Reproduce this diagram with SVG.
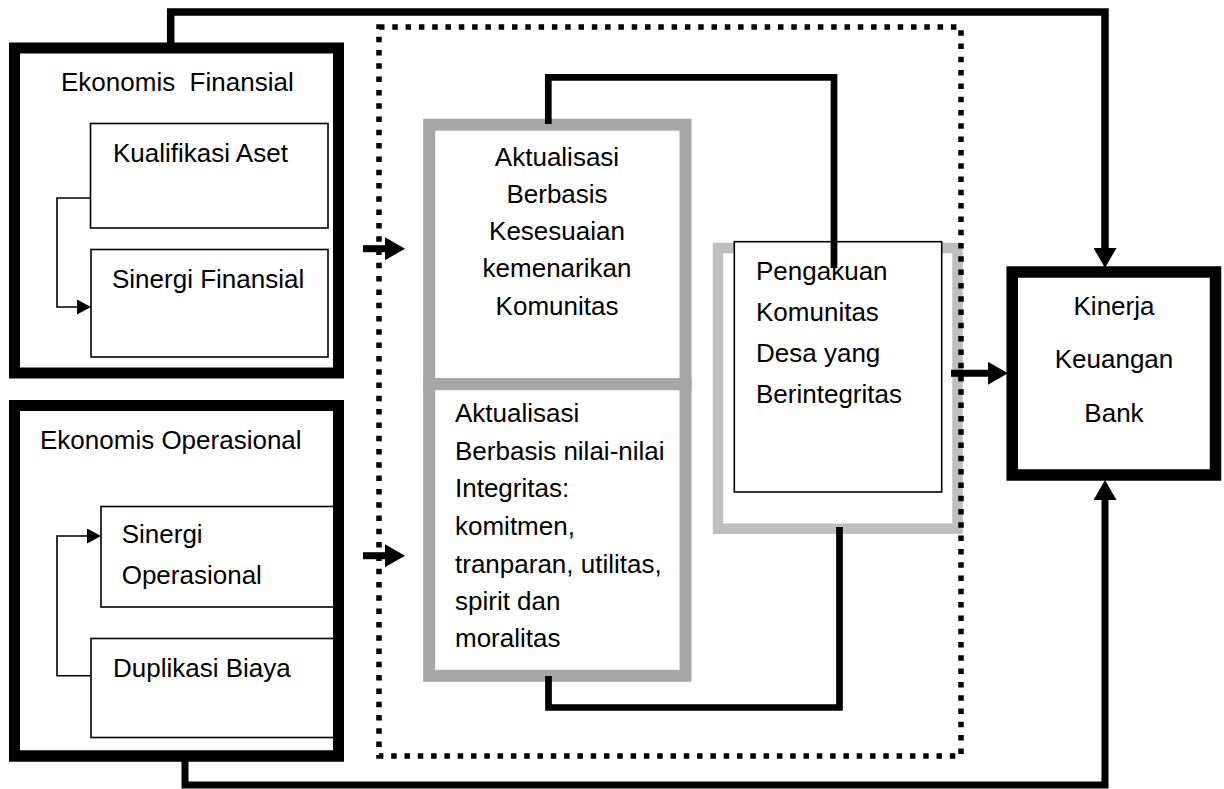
<svg xmlns="http://www.w3.org/2000/svg" width="1224" height="789" viewBox="0 0 1224 789">
<style>
  text { font-family: "Liberation Sans", Arial, sans-serif; font-size: 26px; fill: #000; }
  .outer { fill: #fff; stroke: #000; stroke-width: 11; }
  .outerline { fill: none; stroke: #000; stroke-width: 11; }
  .inner { fill: #fff; stroke: #000; stroke-width: 1.6; }
  .gray { fill: #fff; stroke: #a6a6a6; stroke-width: 12; }
  .lgray { fill: #fff; stroke: #bfbfbf; stroke-width: 10.5; }
  .thick { fill: none; stroke: #000; stroke-width: 7; }
  .mid { fill: none; stroke: #000; stroke-width: 6.7; }
  .thin { fill: none; stroke: #000; stroke-width: 1.6; }
  .dotted { fill: none; stroke: #000; stroke-width: 5.5; stroke-dasharray: 5.5 7.8; }
  .mid-c { text-anchor: middle; }
</style>
<defs>
  <marker id="bigHead" markerUnits="userSpaceOnUse" viewBox="0 0 20 23" refX="0" refY="11.5" markerWidth="20" markerHeight="23" orient="auto">
    <path d="M0 0 L20 11.5 L0 23 Z" fill="#000"/>
  </marker>
  <marker id="smallHead" markerUnits="userSpaceOnUse" viewBox="0 0 14 15" refX="0" refY="7.5" markerWidth="14" markerHeight="15" orient="auto">
    <path d="M0 0 L14 7.5 L0 15 Z" fill="#000"/>
  </marker>
</defs>

<g id="ekonomis-finansial">
  <rect class="outer" x="14.5" y="48" width="324" height="325"/>
  <text x="61" y="90.5" xml:space="preserve">Ekonomis  Finansial</text>
  <g id="kualifikasi-aset">
    <rect class="inner" x="90.5" y="123.5" width="237.5" height="104.5"/>
    <text x="113" y="161.7">Kualifikasi Aset</text>
  </g>
  <g id="sinergi-finansial">
    <rect class="inner" x="91" y="249.5" width="237" height="107.5"/>
    <text x="112" y="288.3">Sinergi Finansial</text>
  </g>
</g>

<g id="ekonomis-operasional">
  <rect class="outer" x="14.5" y="405.5" width="324" height="350.5"/>
  <text x="40" y="449.3">Ekonomis Operasional</text>
  <g id="sinergi-operasional">
    <rect class="inner" x="101" y="506.5" width="236" height="100.5"/>
    <text x="121.7" y="543.3">Sinergi</text>
    <text x="121.7" y="584">Operasional</text>
  </g>
  <g id="duplikasi-biaya">
    <rect class="inner" x="91" y="638.5" width="246" height="99"/>
    <text x="113" y="677.3">Duplikasi Biaya</text>
  </g>
  <rect class="outerline" x="14.5" y="405.5" width="324" height="350.5"/>
</g>

<g id="aktualisasi-kesesuaian">
  <rect class="gray" x="429.2" y="124.7" width="256.3" height="259.5"/>
  <text class="mid-c" x="557" y="165.7">Aktualisasi</text>
  <text class="mid-c" x="557" y="202.7">Berbasis</text>
  <text class="mid-c" x="557" y="240">Kesesuaian</text>
  <text class="mid-c" x="557" y="277.3">kemenarikan</text>
  <text class="mid-c" x="557" y="315">Komunitas</text>
</g>

<g id="aktualisasi-integritas">
  <rect class="gray" x="429.2" y="384.2" width="256.3" height="291.6"/>
  <text x="455" y="422.3">Aktualisasi</text>
  <text x="455" y="460">Berbasis nilai-nilai</text>
  <text x="455" y="497.3">Integritas:</text>
  <text x="455" y="535">komitmen,</text>
  <text x="455" y="572.7">tranparan, utilitas,</text>
  <text x="455" y="610">spirit dan</text>
  <text x="455" y="647.3">moralitas</text>
</g>

<g id="pengakuan-komunitas">
  <rect class="lgray" x="718" y="248" width="239.5" height="280.7"/>
  <rect class="inner" x="734.3" y="241.7" width="207.4" height="250.3"/>
  <text x="756" y="280">Pengakuan</text>
  <text x="756" y="320.7">Komunitas</text>
  <text x="756" y="361.7">Desa yang</text>
  <text x="756" y="403">Berintegritas</text>
</g>

<g id="kinerja-keuangan-bank">
  <rect class="outer" x="1012.2" y="272" width="203.3" height="203" style="stroke-width:11.5"/>
  <text class="mid-c" x="1114" y="315">Kinerja</text>
  <text class="mid-c" x="1114" y="368.3">Keuangan</text>
  <text class="mid-c" x="1114" y="422.3">Bank</text>
</g>

<g id="dotted-frame">
  <rect class="dotted" x="379" y="27" width="582" height="729"/>
</g>

<g id="connectors">
  <path class="thin" d="M90.5 198 H57 V307 H77" marker-end="url(#smallHead)"/>
  <path class="thin" d="M91 675.7 H57 V536 H87" marker-end="url(#smallHead)"/>
  <path class="thick" d="M170.7 43 V12 H1105 V248" style="stroke-width:7.5" marker-end="url(#bigHead)"/>
  <path class="thick" d="M185 761 V785 H1105 V500" marker-end="url(#bigHead)"/>
  <path class="thick" d="M363 248.7 H385" marker-end="url(#bigHead)"/>
  <path class="thick" d="M363 555.7 H385" marker-end="url(#bigHead)"/>
  <path class="mid" d="M548.3 124 V77.3 H834 V268"/>
  <path class="mid" d="M548.5 676 V707.5 H839.5 V527"/>
  <path class="thick" d="M951 373.3 H988" marker-end="url(#bigHead)"/>
</g>
</svg>
